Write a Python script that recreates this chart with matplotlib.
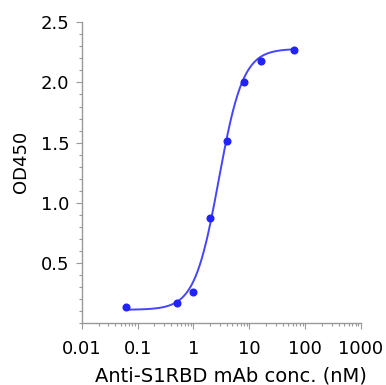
import numpy as np
import matplotlib
matplotlib.use("Agg")
import matplotlib.pyplot as plt
from matplotlib.ticker import LogLocator, MultipleLocator, FixedLocator

plt.rcParams['font.family'] = ['DejaVu Sans']

# antibody concentration (nM) and measured OD450
conc = [0.0625, 0.5, 1, 2, 4, 8, 16, 64]
od450 = [0.133, 0.17, 0.26, 0.87, 1.51, 2.0, 2.18, 2.27]

# 4PL fit parameters
bottom, top, ec50, hill = 0.11, 2.28, 2.85, 2.0

xtick_vals = [0.01, 0.1, 1, 10, 100, 1000]
xtick_labels = ["0.01", "0.1", "1", "10", "100", "1000"]
ytick_vals = [0.5, 1.0, 1.5, 2.0, 2.5]

fig = plt.figure(figsize=(3.86, 3.85), dpi=100)
ax = fig.add_axes([0.212, 0.161, 0.723, 0.781])

xfit = np.logspace(np.log10(conc[0]), np.log10(conc[-1]), 300)
yfit = bottom + (top - bottom) / (1 + (ec50 / xfit) ** hill)
ax.plot(xfit, yfit, color='#4545ff', linewidth=1.4)
ax.plot(conc, od450, 'o', color='#2222ff', markersize=4.8)

ax.set_xscale('log')
ax.set_xlim(0.01, 1000)
ax.set_ylim(0, 2.5)

ax.xaxis.set_major_locator(FixedLocator(xtick_vals))
ax.set_xticklabels(xtick_labels)
ax.xaxis.set_minor_locator(LogLocator(base=10, subs=np.arange(2, 10)))
ax.yaxis.set_major_locator(FixedLocator(ytick_vals))
ax.set_yticklabels([f"{v:.1f}" for v in ytick_vals])
ax.yaxis.set_minor_locator(MultipleLocator(0.1))

for s in ['top', 'right']:
    ax.spines[s].set_visible(False)
for s in ['left', 'bottom']:
    ax.spines[s].set_color('#999999')
    ax.spines[s].set_linewidth(1.0)

ax.tick_params(which='major', length=4, width=0.8, color='#999999', labelsize=13, pad=5)
ax.tick_params(which='minor', length=2.5, width=0.8, color='#999999')
ax.tick_params(axis='x', which='major', pad=8)

ax.set_xlabel("Anti-S1RBD mAb conc. (nM)", fontsize=14)
ax.set_ylabel("OD450", fontsize=13)
ax.xaxis.set_label_coords(0.536, -0.143)
ax.yaxis.set_label_coords(-0.185, 0.536)

fig.savefig("out.png", dpi=100)
